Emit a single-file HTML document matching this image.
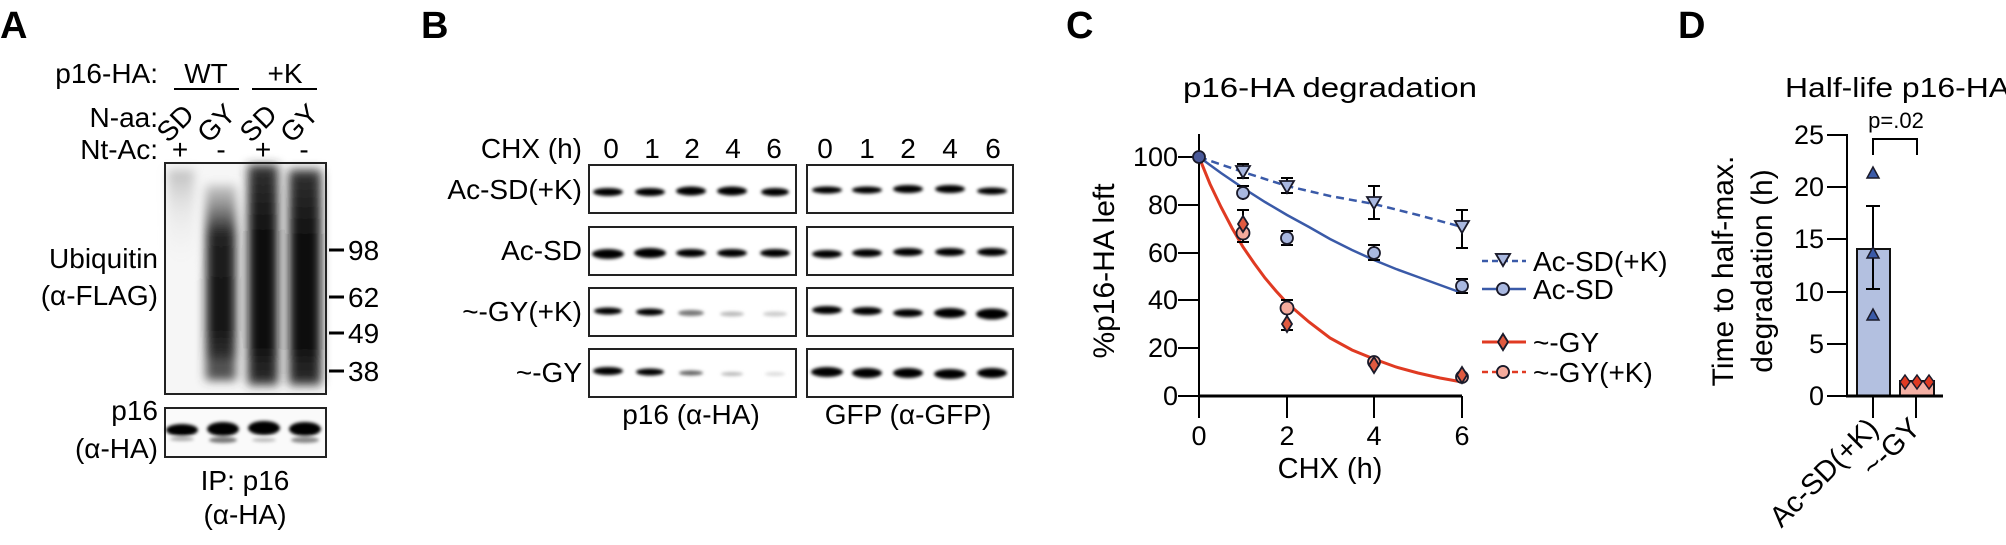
<!DOCTYPE html>
<html><head><meta charset="utf-8"><style>
html,body{margin:0;padding:0;background:#fff;}
svg{display:block;font-family:"Liberation Sans",Arial,sans-serif;}
</style></head><body>
<svg width="2006" height="545" viewBox="0 0 2006 545" xmlns="http://www.w3.org/2000/svg">
<defs>
<filter id="b2" x="-50%" y="-100%" width="200%" height="300%"><feGaussianBlur stdDeviation="1.6"/></filter>
<filter id="b6" x="-50%" y="-50%" width="200%" height="200%"><feGaussianBlur stdDeviation="5"/></filter>
<linearGradient id="lane1" x1="0" y1="0" x2="0" y2="1"><stop offset="0" stop-color="#999" stop-opacity=".6"/><stop offset=".4" stop-color="#ccc" stop-opacity=".3"/><stop offset="1" stop-color="#fff" stop-opacity="0"/></linearGradient>
<linearGradient id="lane2" x1="0" y1="0" x2="0" y2="1"><stop offset="0" stop-color="#aaa" stop-opacity=".6"/><stop offset=".25" stop-color="#222"/><stop offset=".7" stop-color="#111"/><stop offset="1" stop-color="#444"/></linearGradient>
<linearGradient id="lane3" x1="0" y1="0" x2="0" y2="1"><stop offset="0" stop-color="#333"/><stop offset=".3" stop-color="#111"/><stop offset=".8" stop-color="#0a0a0a"/><stop offset="1" stop-color="#333"/></linearGradient>
</defs>
<g font-size="28" fill="#000">
<!-- Panel letters -->
<text x="0" y="38" font-size="38" font-weight="bold">A</text>
<text x="421" y="38" font-size="38" font-weight="bold">B</text>
<text x="1066" y="38" font-size="38" font-weight="bold">C</text>
<text x="1678" y="38" font-size="38" font-weight="bold">D</text>

<!-- Panel A -->
<text x="158" y="83" text-anchor="end">p16-HA:</text>
<text x="206" y="83" text-anchor="middle">WT</text>
<text x="285" y="83" text-anchor="middle">+K</text>
<line x1="174" y1="89" x2="239" y2="89" stroke="#000" stroke-width="2"/>
<line x1="252" y1="89" x2="317" y2="89" stroke="#000" stroke-width="2"/>
<text x="158" y="127" text-anchor="end">N-aa:</text>
<text transform="translate(182,130) rotate(-45)" text-anchor="middle">SD</text>
<text transform="translate(223,130) rotate(-45)" text-anchor="middle">GY</text>
<text transform="translate(265,130) rotate(-45)" text-anchor="middle">SD</text>
<text transform="translate(306,130) rotate(-45)" text-anchor="middle">GY</text>
<text x="158" y="159" text-anchor="end">Nt-Ac:</text>
<text x="180" y="159" text-anchor="middle">+</text>
<text x="221" y="159" text-anchor="middle">-</text>
<text x="263" y="159" text-anchor="middle">+</text>
<text x="304" y="159" text-anchor="middle">-</text>
<rect x="165" y="163" width="161" height="231" fill="#f6f6f6"/>
<g filter="url(#b6)">
<rect x="168" y="170" width="26" height="110" fill="url(#lane1)"/>
<rect x="206" y="185" width="30" height="195" fill="url(#lane2)"/>
<rect x="248" y="165" width="30" height="220" fill="url(#lane3)"/>
<rect x="289" y="170" width="32" height="215" fill="url(#lane3)"/>
<rect x="208" y="360" width="28" height="14" fill="#555"/>
<rect x="248" y="360" width="30" height="14" fill="#222"/>
<rect x="289" y="360" width="30" height="14" fill="#222"/>
</g>
<rect x="165" y="163" width="161" height="231" fill="none" stroke="#222" stroke-width="2"/>
<g stroke="#000" stroke-width="3">
<line x1="329" y1="250" x2="344" y2="250"/><line x1="329" y1="297" x2="344" y2="297"/>
<line x1="329" y1="333" x2="344" y2="333"/><line x1="329" y1="371" x2="344" y2="371"/>
</g>
<text x="348" y="260">98</text><text x="348" y="307">62</text>
<text x="348" y="343">49</text><text x="348" y="381">38</text>
<text x="158" y="268" text-anchor="end">Ubiquitin</text>
<text x="158" y="305" text-anchor="end">(α-FLAG)</text>
<rect x="165" y="408" width="161" height="49" fill="#fafafa" stroke="#222" stroke-width="2"/>
<g filter="url(#b2)">
<ellipse cx="182" cy="430" rx="16" ry="6" fill="#000"/>
<ellipse cx="223" cy="429" rx="16" ry="7" fill="#000"/>
<ellipse cx="264" cy="428" rx="16" ry="7" fill="#000"/>
<ellipse cx="305" cy="429" rx="16" ry="7" fill="#000"/>
<ellipse cx="223" cy="440" rx="14" ry="3" fill="#777"/>
<ellipse cx="305" cy="440" rx="14" ry="3" fill="#888"/>
<ellipse cx="182" cy="439" rx="12" ry="2" fill="#aaa"/>
<ellipse cx="264" cy="440" rx="12" ry="2" fill="#bbb"/>
</g>
<text x="158" y="420" text-anchor="end">p16</text>
<text x="158" y="458" text-anchor="end">(α-HA)</text>
<text x="245" y="490" text-anchor="middle">IP: p16</text>
<text x="245" y="524" text-anchor="middle">(α-HA)</text>

<!-- Panel B -->
<text x="582" y="158" text-anchor="end">CHX (h)</text>
<g text-anchor="middle">
<text x="611" y="158">0</text><text x="652" y="158">1</text><text x="692" y="158">2</text><text x="733" y="158">4</text><text x="774" y="158">6</text>
<text x="825" y="158">0</text><text x="867" y="158">1</text><text x="908" y="158">2</text><text x="950" y="158">4</text><text x="993" y="158">6</text>
</g>
<g text-anchor="end">
<text x="582" y="199">Ac-SD(+K)</text>
<text x="582" y="260">Ac-SD</text>
<text x="582" y="321">~-GY(+K)</text>
<text x="582" y="382">~-GY</text>
</g>
<g fill="#fff" stroke="#222" stroke-width="2">
<rect x="589" y="165" width="207" height="48"/><rect x="807" y="165" width="206" height="48"/>
<rect x="589" y="227" width="207" height="48"/><rect x="807" y="227" width="206" height="48"/>
<rect x="589" y="288" width="207" height="48"/><rect x="807" y="288" width="206" height="48"/>
<rect x="589" y="349" width="207" height="48"/><rect x="807" y="349" width="206" height="48"/>
</g>
<g filter="url(#b2)" fill="#000">
<ellipse cx="608" cy="192" rx="15" ry="4"/><ellipse cx="650" cy="192" rx="15" ry="4"/><ellipse cx="691" cy="191" rx="15" ry="4.5"/><ellipse cx="732" cy="191" rx="15" ry="4.5"/><ellipse cx="775" cy="192" rx="14" ry="4"/>
<ellipse cx="827" cy="190" rx="15" ry="3.5"/><ellipse cx="867" cy="190" rx="15" ry="3.5"/><ellipse cx="908" cy="189" rx="15" ry="4"/><ellipse cx="950" cy="189" rx="15" ry="4"/><ellipse cx="992" cy="191" rx="15" ry="3.5"/>
<ellipse cx="608" cy="254" rx="16" ry="5"/><ellipse cx="650" cy="253" rx="16" ry="5"/><ellipse cx="691" cy="253" rx="15" ry="4"/><ellipse cx="732" cy="253" rx="15" ry="4"/><ellipse cx="775" cy="253" rx="15" ry="4"/>
<ellipse cx="827" cy="254" rx="15" ry="4"/><ellipse cx="867" cy="253" rx="15" ry="4"/><ellipse cx="908" cy="252" rx="15" ry="4"/><ellipse cx="950" cy="252" rx="15" ry="4"/><ellipse cx="992" cy="252" rx="15" ry="4"/>
<ellipse cx="608" cy="311" rx="14" ry="3.5"/><ellipse cx="650" cy="312" rx="14" ry="3.5"/><ellipse cx="691" cy="313" rx="13" ry="3" fill="#777"/><ellipse cx="732" cy="314" rx="12" ry="2.5" fill="#bbb"/><ellipse cx="775" cy="314" rx="12" ry="2.5" fill="#ccc"/>
<ellipse cx="827" cy="310" rx="15" ry="4"/><ellipse cx="867" cy="311" rx="15" ry="4"/><ellipse cx="908" cy="313" rx="15" ry="4"/><ellipse cx="950" cy="313" rx="16" ry="5"/><ellipse cx="992" cy="314" rx="16" ry="5.5"/>
<ellipse cx="608" cy="371" rx="15" ry="4"/><ellipse cx="650" cy="372" rx="14" ry="3.5"/><ellipse cx="691" cy="373" rx="12" ry="2.5" fill="#666"/><ellipse cx="732" cy="374" rx="11" ry="2" fill="#bbb"/><ellipse cx="775" cy="374" rx="10" ry="2" fill="#ddd"/>
<ellipse cx="827" cy="372" rx="16" ry="5"/><ellipse cx="867" cy="373" rx="15" ry="5"/><ellipse cx="908" cy="373" rx="15" ry="5"/><ellipse cx="950" cy="374" rx="16" ry="5"/><ellipse cx="992" cy="373" rx="15" ry="5"/>
</g>
<text x="691" y="424" text-anchor="middle">p16 (α-HA)</text>
<text x="908" y="424" text-anchor="middle">GFP (α-GFP)</text>

<!-- Panel C -->
<text x="1183" y="97" textLength="294" lengthAdjust="spacingAndGlyphs">p16-HA degradation</text>
<g stroke="#000" stroke-width="2">
<line x1="1199" y1="134" x2="1199" y2="418"/>
<line x1="1199" y1="396" x2="1462" y2="396" stroke-width="3"/>
<line x1="1287" y1="396" x2="1287" y2="418"/><line x1="1374" y1="396" x2="1374" y2="418"/><line x1="1462" y1="396" x2="1462" y2="418"/>
<line x1="1178" y1="157" x2="1199" y2="157"/><line x1="1178" y1="205" x2="1199" y2="205"/><line x1="1178" y1="253" x2="1199" y2="253"/>
<line x1="1178" y1="300" x2="1199" y2="300"/><line x1="1178" y1="348" x2="1199" y2="348"/><line x1="1178" y1="396" x2="1199" y2="396"/>
</g>
<g text-anchor="end" font-size="27">
<text x="1178" y="166">100</text><text x="1178" y="214">80</text><text x="1178" y="262">60</text>
<text x="1178" y="309">40</text><text x="1178" y="357">20</text><text x="1178" y="405">0</text>
</g>
<g text-anchor="middle" font-size="27">
<text x="1199" y="445">0</text><text x="1287" y="445">2</text><text x="1374" y="445">4</text><text x="1462" y="445">6</text>
</g>
<text x="1330" y="478" text-anchor="middle" font-size="29">CHX (h)</text>
<text transform="translate(1114,271) rotate(-90)" text-anchor="middle" font-size="30">%p16-HA left</text>
<!-- curves -->
<polyline points="1199,157 1243,172 1287,186 1330,196 1374,204 1418,215 1462,227" fill="none" stroke="#3a5aa8" stroke-width="2.5" stroke-dasharray="8,5"/>
<polyline points="1199,157 1221,173 1243,188 1265,202 1287,215 1309,227 1330,239 1352,250 1374,260 1396,269 1418,277 1440,285 1462,293" fill="none" stroke="#3a5aa8" stroke-width="2.5"/>
<polyline points="1199,157 1210,184 1221,207 1232,228 1243,247 1254,263 1265,278 1276,291 1287,303 1309,322 1330,338 1352,350 1374,359 1396,367 1418,373 1440,378 1462,382" fill="none" stroke="#e03a22" stroke-width="3"/>
<!-- error bars -->
<g stroke="#000" stroke-width="2">
<path d="M1243,164V178M1237,164H1249M1237,178H1249"/>
<path d="M1287,178V193M1281,178H1293M1281,193H1293"/>
<path d="M1374,186V219M1368,186H1380M1368,219H1380"/>
<path d="M1462,210V248M1456,210H1468M1456,248H1468"/>
<path d="M1243,186V200M1237,186H1249"/>
<path d="M1287,231V245M1281,231H1293M1281,245H1293"/>
<path d="M1374,245V260M1368,245H1380M1368,260H1380"/>
<path d="M1462,279V293M1456,279H1468M1456,293H1468"/>
<path d="M1243,210V242M1237,210H1249M1237,242H1249"/>
<path d="M1287,300V330M1281,300H1293M1281,330H1293"/>
</g>
<!-- markers -->
<g stroke="#1a1a2a" stroke-width="1.8">
<circle cx="1199" cy="157" r="6" fill="#4a5a9a"/>
<g fill="#a9b8e0">
<path d="M1236,166H1250L1243,178Z"/><path d="M1280,181H1294L1287,193Z"/><path d="M1367,197H1381L1374,209Z"/><path d="M1455,221H1469L1462,233Z"/>
<circle cx="1243" cy="193" r="6"/><circle cx="1287" cy="238" r="6"/><circle cx="1374" cy="253" r="6"/><circle cx="1462" cy="286" r="6"/>
<path d="M1496,254H1510L1503,266Z"/><circle cx="1503" cy="289" r="6"/>
</g>
<g fill="#f4aa9c">
<circle cx="1243" cy="233" r="6.5"/><circle cx="1287" cy="308" r="6.5"/><circle cx="1374" cy="362" r="6"/><circle cx="1462" cy="377" r="6"/>
<circle cx="1503" cy="372" r="6"/>
</g>
<g fill="#e05a40">
<path d="M1243,216L1248,224L1243,232L1238,224Z"/><path d="M1287,316L1292,324L1287,332L1282,324Z"/><path d="M1374,357L1379,365L1374,373L1369,365Z"/><path d="M1462,367L1467,375L1462,383L1457,375Z"/>
<path d="M1503,334L1508,342L1503,350L1498,342Z"/>
</g>
</g>
<!-- legend -->
<line x1="1482" y1="261" x2="1526" y2="261" stroke="#3a5aa8" stroke-width="2.5" stroke-dasharray="6,4"/>
<line x1="1482" y1="289" x2="1526" y2="289" stroke="#3a5aa8" stroke-width="2.5"/>
<line x1="1482" y1="342" x2="1526" y2="342" stroke="#e03a22" stroke-width="3"/>
<line x1="1482" y1="372" x2="1526" y2="372" stroke="#e03a22" stroke-width="2.5" stroke-dasharray="6,4"/>
<path d="M1496,254H1510L1503,266Z" fill="#a9b8e0" stroke="#1a1a2a" stroke-width="1.8"/>
<circle cx="1503" cy="289" r="6" fill="#a9b8e0" stroke="#1a1a2a" stroke-width="1.8"/>
<path d="M1503,334L1508,342L1503,350L1498,342Z" fill="#e05a40" stroke="#1a1a2a" stroke-width="1.8"/>
<circle cx="1503" cy="372" r="6" fill="#f4aa9c" stroke="#1a1a2a" stroke-width="1.8"/>
<g font-size="28">
<text x="1533" y="271">Ac-SD(+K)</text><text x="1533" y="299">Ac-SD</text>
<text x="1533" y="352">~-GY</text><text x="1533" y="382">~-GY(+K)</text>
</g>

<!-- Panel D -->
<text x="1785" y="97" font-size="28" textLength="225" lengthAdjust="spacingAndGlyphs">Half-life p16-HA</text>
<text transform="translate(1733,271) rotate(-90)" text-anchor="middle" font-size="30">Time to half-max.</text>
<text transform="translate(1772,271) rotate(-90)" text-anchor="middle" font-size="30">degradation (h)</text>
<rect x="1857" y="249" width="33" height="147" fill="#b3c0e0" stroke="#111" stroke-width="2"/>
<rect x="1900" y="381" width="34" height="15" fill="#f4b0a4" stroke="#111" stroke-width="2"/>
<g stroke="#000" stroke-width="2">
<line x1="1847" y1="134" x2="1847" y2="397"/>
<line x1="1846" y1="396" x2="1943" y2="396" stroke-width="3"/>
<line x1="1827" y1="135" x2="1847" y2="135"/><line x1="1827" y1="187" x2="1847" y2="187"/><line x1="1827" y1="239" x2="1847" y2="239"/>
<line x1="1827" y1="292" x2="1847" y2="292"/><line x1="1827" y1="344" x2="1847" y2="344"/><line x1="1827" y1="396" x2="1847" y2="396"/>
<line x1="1873" y1="396" x2="1873" y2="418"/><line x1="1916" y1="396" x2="1916" y2="418"/>
<path d="M1873,206V289M1866,206H1880M1866,289H1880"/>
<path d="M1873,155V139H1917V155" fill="none"/>
</g>
<g text-anchor="end" font-size="27">
<text x="1824" y="144">25</text><text x="1824" y="196">20</text><text x="1824" y="248">15</text>
<text x="1824" y="301">10</text><text x="1824" y="353">5</text><text x="1824" y="405">0</text>
</g>
<text x="1896" y="128" text-anchor="middle" font-size="22">p=.02</text>
<g fill="#3a5aa8" stroke="#1a1a2a" stroke-width="1.5">
<path d="M1873,167L1879,178H1867Z"/><path d="M1873,247L1879,258H1867Z"/><path d="M1873,309L1879,320H1867Z"/>
</g>
<g fill="#e03a22" stroke="#1a1a2a" stroke-width="1.5">
<path d="M1905,375L1910,382L1905,389L1900,382Z"/><path d="M1917,375L1922,382L1917,389L1912,382Z"/><path d="M1929,375L1934,382L1929,389L1924,382Z"/>
</g>
<text transform="translate(1880,430) rotate(-45)" text-anchor="end" font-size="29">Ac-SD(+K)</text>
<text transform="translate(1922,430) rotate(-45)" text-anchor="end" font-size="29">~-GY</text>
</g>
</svg>
</body></html>
